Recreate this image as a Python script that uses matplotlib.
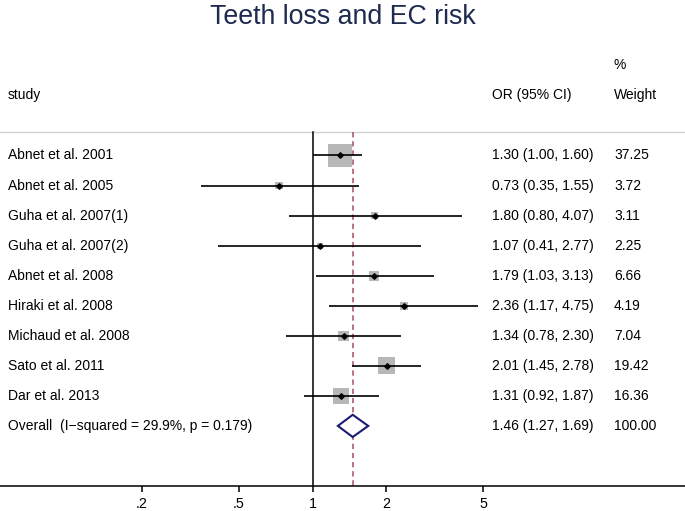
import numpy as np
import matplotlib.pyplot as plt
from matplotlib.patches import Polygon

plt.rcParams['font.family'] = ['Liberation Sans', 'DejaVu Sans']

studies = ["Abnet et al. 2001", "Abnet et al. 2005", "Guha et al. 2007(1)",
           "Guha et al. 2007(2)", "Abnet et al. 2008", "Hiraki et al. 2008",
           "Michaud et al. 2008", "Sato et al. 2011", "Dar et al. 2013"]
or_est = [1.30, 0.73, 1.80, 1.07, 1.79, 2.36, 1.34, 2.01, 1.31]
ci_low = [1.00, 0.35, 0.80, 0.41, 1.03, 1.17, 0.78, 1.45, 0.92]
ci_high = [1.60, 1.55, 4.07, 2.77, 3.13, 4.75, 2.30, 2.78, 1.87]
weights = [37.25, 3.72, 3.11, 2.25, 6.66, 4.19, 7.04, 19.42, 16.36]

overall_label = "Overall  (I\u2212squared = 29.9%, p = 0.179)"
overall = [1.46, 1.27, 1.69]
overall_weight = "100.00"

tick_vals = [0.2, 0.5, 1, 2, 5]
tick_labels = [".2", ".5", "1", "2", "5"]

fig = plt.figure(figsize=(6.85, 5.11), dpi=100)
ax = fig.add_axes([0, 25 / 511, 1, 486 / 511])
ax.set_xscale('log')
ax.set_xlim(10 ** (-312.5 / 244.6), 10 ** (372.5 / 244.6))
ax.set_ylim(11.0, -5.175)

for s in ['left', 'right', 'top']:
    ax.spines[s].set_visible(False)
ax.spines['bottom'].set_linewidth(1.1)
ax.set_yticks([])
ax.set_xticks(tick_vals)
ax.set_xticklabels(tick_labels)
ax.minorticks_off()
ax.tick_params(axis='x', direction='out', length=4.5, width=1.1,
               pad=3.5, labelsize=10.3)

top = -0.77
ax.axhline(top, color='#d2d2d2', lw=1)
ax.plot([1, 1], [top, 11], color='black', lw=1.1)
ax.plot([overall[0], overall[0]], [top, 11], color='#a8505a', lw=1.1,
        linestyle=(0, (3.5, 2.5)))

rows = np.arange(len(studies))
sq = 8.0 * np.array(weights)
ax.scatter(or_est, rows, s=sq, marker='s', color='#b7b7b7', linewidths=0,
           zorder=2)
ax.hlines(rows, ci_low, ci_high, color='black', lw=1.2, zorder=3)
ax.plot(or_est, rows, 'D', color='black', markersize=2.8, zorder=4)

orow = len(studies)
h = 0.37
diamond = Polygon([[overall[1], orow], [overall[0], orow - h],
                   [overall[2], orow], [overall[0], orow + h]],
                  closed=True, facecolor='white', edgecolor='#1a1a72',
                  lw=1.5, zorder=4)
ax.add_patch(diamond)

tr = ax.get_yaxis_transform()
x_study = 8 / 685
x_or = 492 / 685
x_w = 614 / 685
fs = 10
ax.text(x_study, -2, "study", transform=tr, fontsize=fs, va='center')
ax.text(x_or, -2, "OR (95% CI)", transform=tr, fontsize=fs, va='center')
ax.text(x_w, -3, "%", transform=tr, fontsize=fs, va='center')
ax.text(x_w, -2, "Weight", transform=tr, fontsize=fs, va='center')

for i in range(len(studies)):
    ax.text(x_study, i, studies[i], transform=tr, fontsize=fs, va='center')
    ax.text(x_or, i, "%.2f (%.2f, %.2f)" % (or_est[i], ci_low[i], ci_high[i]),
            transform=tr, fontsize=fs, va='center')
    ax.text(x_w, i, "%.2f" % weights[i], transform=tr, fontsize=fs,
            va='center')

ax.text(x_study, orow, overall_label, transform=tr, fontsize=fs, va='center')
ax.text(x_or, orow, "%.2f (%.2f, %.2f)" % tuple(overall), transform=tr,
        fontsize=fs, va='center')
ax.text(x_w, orow, overall_weight, transform=tr, fontsize=fs, va='center')

fig.text(0.5, 1 - 23.5 / 511, "Teeth loss and EC risk", ha='center',
         va='baseline', fontsize=19.3, color='#1e2a50')

fig.savefig("out.png", dpi=100)
